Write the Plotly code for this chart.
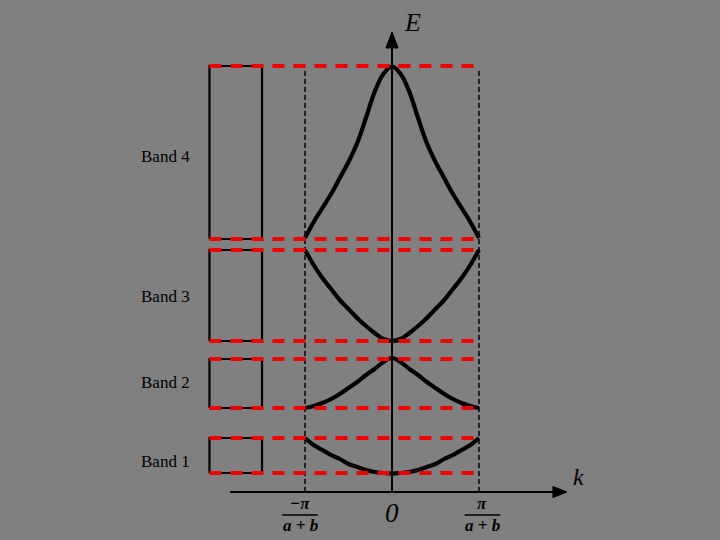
import plotly.graph_objects as go

# ---------------- data ----------------
# wave vector in units of pi/(a+b)
k_vals = [-1.0, -0.9, -0.8, -0.7, -0.6, -0.5, -0.4, -0.3, -0.2, -0.1, 0.0,
          0.1, 0.2, 0.3, 0.4, 0.5, 0.6, 0.7, 0.8, 0.9, 1.0]
# energy (arbitrary units) of each band
band1_E = [5.4, 4.7, 4.2, 3.7, 3.3, 2.8, 2.5, 2.2, 2.0, 1.9, 1.85,
           1.9, 2.0, 2.2, 2.5, 2.8, 3.3, 3.7, 4.2, 4.7, 5.4]
band2_E = [8.4, 8.6, 8.9, 9.3, 9.8, 10.4, 11.0, 11.7, 12.3, 13.0, 13.4,
           13.0, 12.3, 11.7, 11.0, 10.4, 9.8, 9.3, 8.9, 8.6, 8.4]
band3_E = [24.2, 22.7, 21.4, 20.3, 19.2, 18.3, 17.4, 16.6, 15.9, 15.3, 15.1,
           15.3, 15.9, 16.6, 17.4, 18.3, 19.2, 20.3, 21.4, 22.7, 24.2]
band4_E = [25.4, 27.0, 28.4, 29.8, 31.4, 33.0, 34.9, 37.4, 40.0, 41.8, 42.55,
           41.8, 40.0, 37.4, 34.9, 33.0, 31.4, 29.8, 28.4, 27.0, 25.4]

band_names = ["Band 1", "Band 2", "Band 3", "Band 4"]
band_bottom = [1.9, 8.4, 15.1, 25.3]
band_top = [5.4, 13.3, 24.2, 42.6]
label_E = [3.1, 11.0, 19.6, 33.6]

tick_k = [-1, 0, 1]

# ---------------- layout constants ----------------
BG = "#808080"
X_RANGE = [-392 / 87, 328 / 87]
Y_RANGE = [-4.8, 49.2]
RECT_X = [-2.098, -1.494]
RED_X = [-2.098, 1.0]
LABEL_K = -2.6
KAXIS_X = [-1.862, 1.86]
EAXIS_TOP = 44.6

fig = go.Figure()

# dotted zone-boundary lines
for kv in [tick_k[0], tick_k[2]]:
    fig.add_trace(go.Scatter(x=[kv, kv], y=[0, 42.4], mode="lines",
                             line=dict(color="black", width=1.5, dash="5px,3px"),
                             hoverinfo="skip", showlegend=False))

# axes lines
fig.add_trace(go.Scatter(x=KAXIS_X, y=[0, 0], mode="lines",
                         line=dict(color="black", width=2), showlegend=False))
fig.add_trace(go.Scatter(x=[0, 0], y=[0, EAXIS_TOP], mode="lines",
                         line=dict(color="black", width=2), showlegend=False))
# arrow heads
fig.add_trace(go.Scatter(x=[KAXIS_X[1] - 0.01, 2.011, KAXIS_X[1] - 0.01, KAXIS_X[1] - 0.01],
                         y=[0.55, 0, -0.55, 0.55], mode="lines", fill="toself",
                         fillcolor="black", line=dict(color="black", width=1),
                         showlegend=False))
fig.add_trace(go.Scatter(x=[-0.07, 0, 0.07, -0.07],
                         y=[44.4, 46.0, 44.4, 44.4], mode="lines", fill="toself",
                         fillcolor="black", line=dict(color="black", width=1),
                         showlegend=False))

# band rectangles
for b, t in zip(band_bottom, band_top):
    fig.add_trace(go.Scatter(x=[RECT_X[0], RECT_X[1], RECT_X[1], RECT_X[0], RECT_X[0]],
                             y=[b, b, t, t, b], mode="lines",
                             line=dict(color="black", width=2.2), showlegend=False))

# dispersion curves
for E in [band1_E, band2_E, band3_E, band4_E]:
    fig.add_trace(go.Scatter(x=k_vals, y=E, mode="lines",
                             line=dict(color="black", width=4.2, shape="spline", smoothing=1.0),
                             showlegend=False))

# red dashed band edges
for e in band_bottom + band_top:
    fig.add_trace(go.Scatter(x=RED_X, y=[e, e], mode="lines",
                             line=dict(color="#ee0000", width=4, dash="12px,9px"),
                             showlegend=False))

# fraction bars for tick labels
FRAC_X = [-1.057, 1.04]
for xc in FRAC_X:
    fig.add_trace(go.Scatter(x=[xc - 0.205, xc + 0.205], y=[-2.3, -2.3], mode="lines",
                             line=dict(color="black", width=1.5), showlegend=False))

ann = []
serif = "Liberation Serif"
for name, ey in zip(band_names, label_E):
    ann.append(dict(x=LABEL_K, y=ey, text=name, showarrow=False,
                    font=dict(family=serif, size=17, color="black")))
ann.append(dict(x=0.235, y=47.0, text="<i>E</i>", showarrow=False,
                font=dict(family=serif, size=26, color="black")))
ann.append(dict(x=2.14, y=1.5, text="<i>k</i>", showarrow=False,
                font=dict(family=serif, size=24, color="black")))
ann.append(dict(x=tick_k[1], y=-2.1, text="<i>0</i>", showarrow=False,
                font=dict(family=serif, size=27, color="black")))
for xc, num in zip(FRAC_X, ["−π", "π"]):
    ann.append(dict(x=xc, y=-1.15, text="<i><b>" + num + "</b></i>", showarrow=False,
                    font=dict(family=serif, size=17, color="black")))
    ann.append(dict(x=xc, y=-3.35, text="<i><b>a + b</b></i>", showarrow=False,
                    font=dict(family=serif, size=17, color="black")))

fig.update_layout(
    width=720, height=540,
    margin=dict(l=0, r=0, t=0, b=0),
    paper_bgcolor=BG, plot_bgcolor=BG,
    annotations=ann,
    xaxis=dict(range=X_RANGE, visible=False, showgrid=False, zeroline=False),
    yaxis=dict(range=Y_RANGE, visible=False, showgrid=False, zeroline=False),
    showlegend=False,
)

fig.write_html("out.html",
               config={"displayModeBar": False},
               post_script="document.body.style.margin='0';"
                           "document.body.style.background='" + BG + "';"
                           "document.body.style.overflow='hidden';")
